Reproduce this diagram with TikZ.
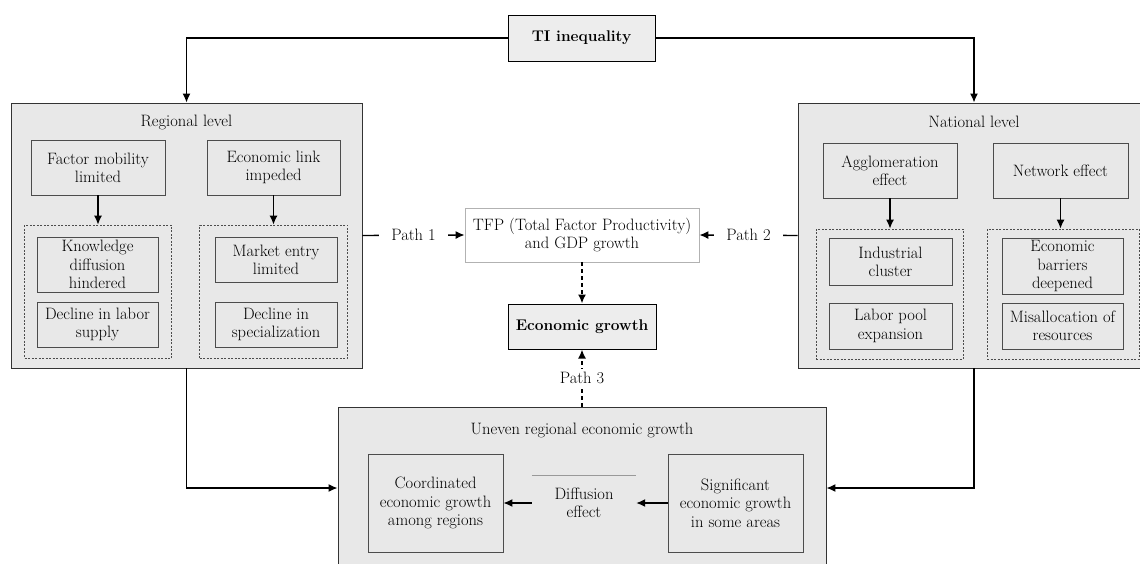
\documentclass[tikz,border=0pt]{standalone}
\usetikzlibrary{arrows.meta}
\begin{document}
\begin{tikzpicture}[x=1pt,y=-1pt,
  every node/.style={font=\fontsize{16.5}{18.3}\selectfont, align=center, inner sep=0pt},
  cont/.style={draw=black!80, line width=0.9pt, fill=black!9},
  inbox/.style={draw=black!70, line width=0.8pt, fill=black!9},
  dbox/.style={draw=black!70, line width=0.7pt, dash pattern=on 2pt off 1.5pt},
  keybox/.style={draw=black, line width=1pt, fill=black!7, font=\fontsize{15.5}{18}\selectfont\bfseries},
  conn/.style={line width=1.4pt, -{Latex[length=9pt,width=8pt]}},
  dconn/.style={line width=1.7pt, dash pattern=on 4pt off 3pt, -{Latex[length=9pt,width=8pt]}}]
\useasboundingbox (0,0) rectangle (1140,563);
\fill[white] (0,0) rectangle (1140,563);
% containers
\node[cont, minimum width=351pt, minimum height=265pt] (reg) at (186.5,235.5) {};
\node[cont, minimum width=352pt, minimum height=265pt] (nat) at (974,235.5) {};
\node[cont, minimum width=488pt, minimum height=162pt] (bot) at (582,488) {};
\node (regl) at (186.5,122) {Regional level};
\node (natl) at (974,122) {National level};
\node (botl) at (582,430) {Uneven regional economic growth};
% top
\node[keybox, minimum width=147pt, minimum height=46pt] (ti) at (581.5,38) {TI inequality};
% regional inner
\node[inbox, minimum width=134pt, minimum height=55pt] (fm) at (98,167.5) {Factor mobility\\limited};
\node[inbox, minimum width=133pt, minimum height=55pt] (el) at (273.5,167.5) {Economic link\\impeded};
\node[dbox, minimum width=147pt, minimum height=133pt] (dl) at (98,291.5) {};
\node[dbox, minimum width=148pt, minimum height=133pt] (dr) at (273.5,291.5) {};
\node[inbox, minimum width=121pt, minimum height=55pt] (kd) at (97.5,264.5) {Knowledge\\diffusion\\hindered};
\node[inbox, minimum width=121pt, minimum height=45pt] (dls) at (97.5,324.5) {Decline in labor\\supply};
\node[inbox, minimum width=122pt, minimum height=45pt] (me) at (276,259.5) {Market entry\\limited};
\node[inbox, minimum width=122pt, minimum height=45pt] (ds) at (276,324.5) {Decline in\\specialization};
% national inner
\node[inbox, minimum width=134pt, minimum height=55pt] (ag) at (890,170.5) {Agglomeration\\effect};
\node[inbox, minimum width=135pt, minimum height=55pt] (ne) at (1060.5,170.5) {Network effect};
\node[dbox, minimum width=147pt, minimum height=130pt] (ndl) at (889.5,294) {};
\node[dbox, minimum width=152pt, minimum height=130pt] (ndr) at (1063,294) {};
\node[inbox, minimum width=123pt, minimum height=47pt] (ic) at (890.5,261.5) {Industrial\\cluster};
\node[inbox, minimum width=123pt, minimum height=46pt] (lp) at (890.5,326) {Labor pool\\expansion};
\node[inbox, minimum width=121pt, minimum height=56pt] (eb) at (1062.5,266) {Economic\\barriers\\deepened};
\node[inbox, minimum width=121pt, minimum height=46pt] (mr) at (1062.5,326) {Misallocation of\\resources};
% central
\node[draw=black!30, line width=0.8pt, fill=white, minimum width=234pt, minimum height=54pt] (tfp) at (582,235) {TFP (Total Factor Productivity)\\and GDP growth};
\node[keybox, minimum width=148pt, minimum height=45pt] (eg) at (582,326.5) {Economic growth};
% bottom inner
\node[inbox, minimum width=135pt, minimum height=98pt] (co) at (435.5,503) {Coordinated\\economic growth\\among regions};
\node[minimum width=104pt, minimum height=54pt] (de) at (584,503) {Diffusion\\effect};
\draw[black!40, line width=0.8pt] (de.north west) -- (de.north east);
\node[inbox, minimum width=135pt, minimum height=98pt] (sg) at (735.5,503) {Significant\\economic growth\\in some areas};
% connectors
\draw[conn] (ti.west) -| (reg.north);
\draw[conn] (ti.east) -| (nat.north);
\draw[conn] (fm.south) -- (fm.south |- dl.north);
\draw[conn] (el.south) -- (el.south |- dr.north);
\draw[conn] (ag.south) -- (ag.south |- ndl.north);
\draw[conn] (ne.south) -- (ne.south |- ndr.north);
\draw[conn] (reg.east) -- node[fill=white, inner xsep=12pt, inner ysep=2pt] (p1) {Path 1} (tfp.west);
\draw[conn] (nat.west) -- node[fill=white, inner xsep=12pt, inner ysep=2pt] (p2) {Path 2} (tfp.east);
\draw[dconn] (tfp.south) -- (eg.north);
\draw[dconn] (bot.north) -- node[fill=white, inner xsep=3pt, inner ysep=3pt] (p3) {Path 3} (eg.south);
\draw[conn] (reg.south) |- (bot.west);
\draw[conn] (nat.south) |- (bot.east);
\draw[conn] (sg.west) -- (de.east);
\draw[conn] (de.west) -- (co.east);
\end{tikzpicture}
\end{document}
